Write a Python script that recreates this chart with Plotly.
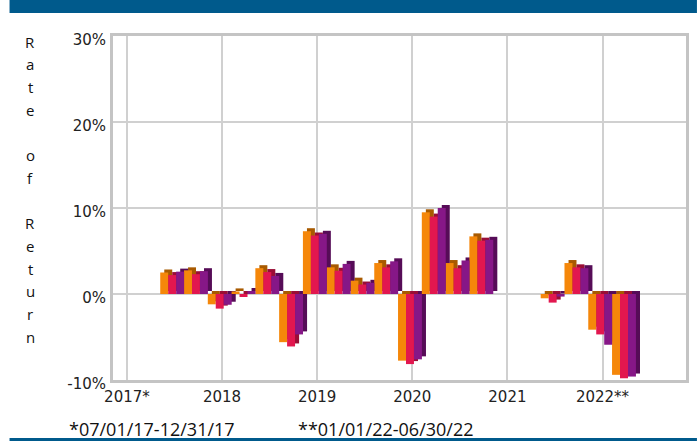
import plotly.graph_objects as go

# ---- data ----
quarters = ["2017Q3", "2017Q4",
            "2018Q1", "2018Q2", "2018Q3", "2018Q4",
            "2019Q1", "2019Q2", "2019Q3", "2019Q4",
            "2020Q1", "2020Q2", "2020Q3", "2020Q4",
            "2021Q1", "2021Q2", "2021Q3", "2021Q4",
            "2022Q1", "2022Q2"]
series_a = [2.5, 2.75, -1.2, 0.3, 3.0, -5.6, 7.3, 3.1, 1.55, 3.6,
            -7.75, 9.5, 3.6, 6.7, None, None, -0.5, 3.6, -4.15, -9.4]
series_b = [2.2, 2.3, -1.7, -0.35, 2.55, -6.1, 6.8, 2.7, 1.1, 3.1,
            -8.15, 9.0, 3.0, 6.2, None, None, -1.0, 3.1, -4.7, -9.8]
series_c = [2.6, 2.65, -1.25, 0.35, 2.1, -4.7, 7.0, 3.5, 1.3, 3.8,
            -7.6, 10.0, 3.9, 6.3, None, None, -0.3, 3.0, -5.9, -9.6]
tick_years = [2017, 2018, 2019, 2020, 2021, 2022]
tick_labels = ["2017*", "2018", "2019", "2020", "2021", "2022**"]
y_ticks = [-10, 0, 10, 20, 30]
y_tick_labels = ["-10%", "0%", "10%", "20%", "30%"]
axis_title = "Rate of Return"
footnote_1 = "*07/01/17-12/31/17"
footnote_2 = "**01/01/22-06/30/22"

# quarter index counted from 2017 Q1
base_year = tick_years[0]
x_pos = [(int(q[:4]) - base_year) * 4 + int(q[5]) - 1 for q in quarters]
tick_vals = [(y - base_year) * 4 for y in tick_years]

front_colors = ["#F5870A", "#E2174F", "#861787"]
side_colors = ["#A85A00", "#9A0E36", "#560C57"]
bar_w = 0.335
offsets = [-0.6, -0.6 + bar_w, -0.6 + 2 * bar_w]
depth_x = 0.17
depth_y = 0.35

fig = go.Figure()
all_series = [series_a, series_b, series_c]
# 3D depth faces first
for vals, off, col in zip(all_series, offsets, side_colors):
    fig.add_trace(go.Bar(x=x_pos, y=vals, base=depth_y, offset=off + depth_x,
                         width=bar_w, marker=dict(color=col, line=dict(width=0)),
                         showlegend=False, hoverinfo="skip"))
for vals, off, col, name in zip(all_series, offsets, front_colors,
                                ["Series A", "Series B", "Series C"]):
    fig.add_trace(go.Bar(x=x_pos, y=vals, offset=off, width=bar_w, name=name,
                         marker=dict(color=col, line=dict(width=0)),
                         showlegend=False))

grid_col = "#D0D0D0"
tick_font = dict(family="DejaVu Sans", size=15, color="#222222")
fig.update_layout(
    width=700, height=446,
    margin=dict(l=113, r=11, t=36, b=66),
    paper_bgcolor="white", plot_bgcolor="white",
    barmode="overlay",
    showlegend=False,
    font=tick_font,
    xaxis=dict(range=[-0.586, 23.51], tickmode="array", tickvals=tick_vals,
               ticktext=tick_labels, showgrid=True, gridcolor=grid_col,
               gridwidth=2, zeroline=False, showline=True, linecolor="#C4C4C4",
               linewidth=3, mirror=True, ticks="", ticklabelstandoff=1,
               tickfont=tick_font),
    yaxis=dict(range=[-10, 30], tickmode="array", tickvals=y_ticks,
               ticktext=y_tick_labels, showgrid=True, gridcolor=grid_col,
               gridwidth=2, zeroline=False, showline=True, linecolor="#C4C4C4",
               linewidth=3, mirror=True, ticks="", ticklabelstandoff=1,
               ticklabelshift=4, tickfont=tick_font),
)

# helper to convert pixel coordinates to paper coordinates
L, R, T, B = 113, 689, 36, 380
def px(x):
    return (x - L) / (R - L)
def py(y):
    return (B - y) / (B - T)

# header band and bottom rule
fig.add_shape(type="rect", xref="paper", yref="paper", x0=px(9), x1=px(700),
              y0=py(13), y1=py(0), fillcolor="#005A8C", line=dict(width=0),
              layer="above")
fig.add_shape(type="rect", xref="paper", yref="paper", x0=px(9), x1=px(700),
              y0=py(441), y1=py(438), fillcolor="#005A8C", line=dict(width=0),
              layer="above")

# vertical stacked axis title (one letter per line)
for i, ch in enumerate(axis_title):
    if ch == " ":
        continue
    fig.add_annotation(text=ch, xref="paper", yref="paper", x=px(30),
                       y=py(41.7 + i * 22.7), showarrow=False, xanchor="center",
                       yanchor="middle",
                       font=dict(family="Open Sans", size=15, color="#111111"))

fig.add_annotation(text=footnote_1, xref="paper", yref="paper", x=px(67),
                   y=py(429), xanchor="left", yanchor="middle", showarrow=False,
                   font=dict(family="Open Sans", size=18, color="#111111"))
fig.add_annotation(text=footnote_2, xref="paper", yref="paper", x=px(297),
                   y=py(429), xanchor="left", yanchor="middle", showarrow=False,
                   font=dict(family="Open Sans", size=18, color="#111111"))

fig.write_html("out.html",
               config={"displayModeBar": False},
               post_script="document.body.style.margin='0';"
                           "document.body.style.overflow='hidden';")
